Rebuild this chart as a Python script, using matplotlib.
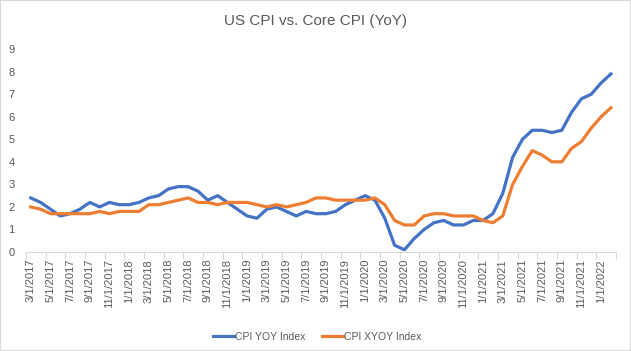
import matplotlib
matplotlib.use("Agg")
import matplotlib.pyplot as plt
import pandas as pd

# monthly YoY values, Mar 2017 .. Feb 2022
months = pd.date_range("2017-03-01", "2022-02-01", freq="MS")
cpi_yoy = [2.4, 2.2, 1.9, 1.6, 1.7, 1.9, 2.2, 2.0, 2.2, 2.1,
           2.1, 2.2, 2.4, 2.5, 2.8, 2.9, 2.9, 2.7, 2.3, 2.5, 2.2, 1.9,
           1.6, 1.5, 1.9, 2.0, 1.8, 1.6, 1.8, 1.7, 1.7, 1.8, 2.1, 2.3,
           2.5, 2.3, 1.5, 0.3, 0.1, 0.6, 1.0, 1.3, 1.4, 1.2, 1.2, 1.4,
           1.4, 1.7, 2.6, 4.2, 5.0, 5.4, 5.4, 5.3, 5.4, 6.2, 6.8, 7.0,
           7.5, 7.9]
core_yoy = [2.0, 1.9, 1.7, 1.7, 1.7, 1.7, 1.7, 1.8, 1.7, 1.8,
            1.8, 1.8, 2.1, 2.1, 2.2, 2.3, 2.4, 2.2, 2.2, 2.1, 2.2, 2.2,
            2.2, 2.1, 2.0, 2.1, 2.0, 2.1, 2.2, 2.4, 2.4, 2.3, 2.3, 2.3,
            2.3, 2.4, 2.1, 1.4, 1.2, 1.2, 1.6, 1.7, 1.7, 1.6, 1.6, 1.6,
            1.4, 1.3, 1.6, 3.0, 3.8, 4.5, 4.3, 4.0, 4.0, 4.6, 4.9, 5.5,
            6.0, 6.4]
labels = [f"{d.month}/1/{d.year}" for d in months]

plt.rcParams["font.family"] = ["Liberation Sans", "DejaVu Sans"]
grey = "#595959"

fig = plt.figure(figsize=(6.31, 3.51), dpi=100)
ax = fig.add_axes([0.041, 0.282, 0.935, 0.578])

x = range(len(months))
ax.plot(x, cpi_yoy, color="#4472C4", lw=2.3, label="CPI YOY Index")
ax.plot(x, core_yoy, color="#ED7D31", lw=2.3, label="CPI XYOY Index")

ax.set_xlim(-0.5, len(months) - 0.5)
ax.set_ylim(0, 9)
ax.set_yticks(range(10))

ax.set_xticks(list(x)[::2])
ax.set_xticklabels(labels[::2], rotation=90, fontsize=8, color=grey)
ax.set_xticks([i - 0.5 for i in range(0, len(months) + 1, 2)], minor=True)
ax.tick_params(axis="x", which="major", length=0, pad=5)
ax.tick_params(axis="x", which="minor", length=5, color="#D9D9D9", width=0.8)
ax.tick_params(axis="y", length=0, labelsize=8, labelcolor=grey, pad=8)

for side in ["top", "right", "left"]:
    ax.spines[side].set_visible(False)
ax.spines["bottom"].set_color("#D9D9D9")

fig.suptitle("US CPI vs. Core CPI (YoY)", y=0.96, fontsize=11, color=grey)
fig.legend(loc="lower center", ncol=2, frameon=False, fontsize=7.5,
           bbox_to_anchor=(0.503, 0.0), handlelength=2.0, handletextpad=0.1,
           columnspacing=1.6, labelcolor=grey)

fig.patches.append(plt.Rectangle((0, 0), 1, 1, transform=fig.transFigure,
                                 fill=False, edgecolor="#D9D9D9", lw=1.5))

fig.savefig("out.png", dpi=100)
